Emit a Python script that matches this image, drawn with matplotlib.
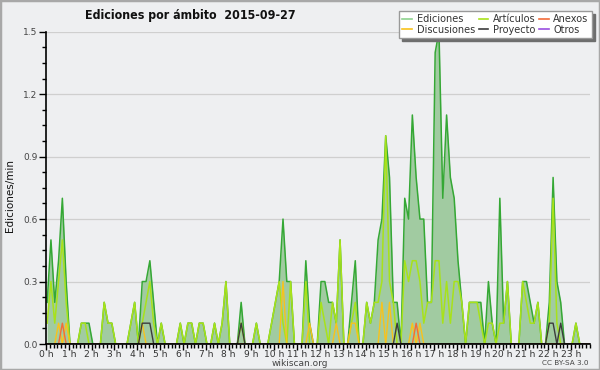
import numpy as np
import matplotlib
matplotlib.use("Agg")
import matplotlib.pyplot as plt
from matplotlib.ticker import MultipleLocator, FuncFormatter
from matplotlib.lines import Line2D
from matplotlib.patches import Rectangle
from matplotlib import font_manager

# ---- data: edits per minute, 10-minute bins (6 per hour, rows = hours 0..23) ----
ediciones = [
    0.2, 0.5, 0.2, 0.4, 0.7, 0.3,
    0, 0, 0, 0.1, 0.1, 0.1,
    0, 0, 0, 0.2, 0.1, 0.1,
    0, 0, 0, 0, 0.1, 0.2,
    0, 0.3, 0.3, 0.4, 0.2, 0,
    0.1, 0, 0, 0, 0, 0.1,
    0, 0.1, 0.1, 0, 0.1, 0.1,
    0, 0, 0.1, 0, 0.1, 0.3,
    0, 0, 0, 0.2, 0, 0,
    0, 0.1, 0, 0, 0, 0.1,
    0.2, 0.3, 0.6, 0.3, 0.3, 0,
    0, 0, 0.4, 0.1, 0, 0,
    0.3, 0.3, 0.2, 0.2, 0.1, 0.5,
    0, 0, 0.2, 0.4, 0, 0,
    0.2, 0.1, 0.2, 0.5, 0.6, 1.0,
    0.8, 0.2, 0.2, 0, 0.7, 0.6,
    1.1, 0.8, 0.6, 0.6, 0.2, 0.2,
    1.4, 1.5, 0.7, 1.1, 0.8, 0.7,
    0.4, 0.2, 0, 0.2, 0.2, 0.2,
    0.2, 0, 0.3, 0.1, 0, 0.7,
    0.1, 0.3, 0, 0, 0, 0.3,
    0.3, 0.2, 0.1, 0.2, 0, 0,
    0.2, 0.8, 0.3, 0.2, 0, 0,
    0, 0.1, 0, 0, 0, 0,
]
articulos = [
    0.1, 0.3, 0.1, 0.3, 0.5, 0.2,
    0, 0, 0, 0.1, 0.1, 0,
    0, 0, 0, 0.2, 0.1, 0.1,
    0, 0, 0, 0, 0.1, 0.2,
    0, 0.1, 0.2, 0.3, 0.1, 0,
    0.1, 0, 0, 0, 0, 0.1,
    0, 0.1, 0.1, 0, 0.1, 0.1,
    0, 0, 0.1, 0, 0.1, 0.3,
    0, 0, 0, 0.1, 0, 0,
    0, 0.1, 0, 0, 0, 0.1,
    0.2, 0.3, 0.1, 0, 0.3, 0,
    0, 0, 0.3, 0, 0, 0,
    0.2, 0.1, 0, 0.2, 0.1, 0.5,
    0, 0, 0.1, 0.2, 0, 0,
    0.2, 0.1, 0.2, 0.2, 0.3, 1.0,
    0.3, 0.2, 0, 0, 0.4, 0.3,
    0.4, 0.4, 0.3, 0.1, 0.2, 0.2,
    0.4, 0.4, 0.1, 0.3, 0.1, 0.3,
    0.3, 0.2, 0, 0.2, 0.2, 0.2,
    0.1, 0, 0.1, 0.1, 0, 0.1,
    0.1, 0.3, 0, 0, 0, 0.3,
    0.2, 0.1, 0.1, 0.2, 0, 0,
    0.1, 0.7, 0.1, 0, 0, 0,
    0, 0.1, 0, 0, 0, 0,
]
discusiones = [
    0, 0, 0, 0.1, 0, 0.1,
    0, 0, 0, 0, 0, 0,
    0, 0, 0, 0, 0, 0,
    0, 0, 0, 0, 0, 0,
    0, 0.1, 0, 0, 0, 0,
    0, 0, 0, 0, 0, 0,
    0, 0, 0, 0, 0, 0,
    0, 0, 0, 0, 0, 0,
    0, 0, 0, 0, 0, 0,
    0, 0, 0, 0, 0, 0,
    0, 0, 0.3, 0, 0, 0,
    0, 0, 0, 0.1, 0, 0,
    0, 0, 0, 0, 0.1, 0,
    0, 0, 0.1, 0.1, 0, 0,
    0, 0, 0, 0, 0.2, 0,
    0.2, 0, 0, 0, 0, 0,
    0.1, 0, 0.1, 0, 0, 0,
    0, 0, 0, 0, 0, 0,
    0, 0, 0, 0, 0, 0,
    0, 0, 0, 0, 0, 0,
    0, 0, 0, 0, 0, 0,
    0, 0, 0, 0, 0, 0,
    0, 0, 0, 0, 0, 0,
    0, 0, 0, 0, 0, 0,
]
anexos = [0.0] * 144
anexos[4] = 0.1
anexos[97] = 0.1
proyecto = [0.0] * 144
for _i in (25, 26, 27, 51, 92, 132, 133, 135):
    proyecto[_i] = 0.1
otros = [0.0] * 144

hour_labels = [f"{h} h" for h in range(24)]
title = "Ediciones por ámbito  2015-09-27"
series_names = ["Ediciones", "Discusiones", "Artículos", "Proyecto", "Anexos", "Otros"]

# ---- style ----
BG = "#EEEFF1"
C_EDI_LINE = "#35A835"
C_EDI_FILL = "#A1CBA1"
C_ART = "#A8E21A"
C_DIS = "#F8C21C"
C_ANE = "#F26B3A"
C_PRO = "#3C3C3C"
C_OTR = "#9A4FE0"

plt.rcParams["font.family"] = ["DejaVu Sans"]


def pick_font(cands):
    for fam, stretch in cands:
        try:
            fp = font_manager.FontProperties(family=fam, stretch=stretch, weight="bold")
            path = font_manager.findfont(fp, fallback_to_default=False)
            if "Narrow" in path or "Condensed" in path or stretch == "normal":
                return fam, stretch
        except Exception:
            pass
    return "DejaVu Sans", "normal"


title_fam, title_stretch = pick_font([("DejaVu Sans", "condensed"),
                                      ("Liberation Sans Narrow", "condensed"),
                                      ("Liberation Sans Narrow", "normal")])
title_size = 8.9 if title_fam != "DejaVu Sans" or title_stretch != "normal" else 7.9

W, H = 600, 370
fig = plt.figure(figsize=(W / 100, H / 100), dpi=100, facecolor=BG)
ax = fig.add_axes([46 / W, (H - 344) / H, 544 / W, (344 - 31.7) / H])
ax.set_facecolor(BG)

n = len(ediciones)
x = (np.arange(n) + 0.3) / 6.0

ax.fill_between(x, 0, ediciones, color=C_EDI_FILL, lw=0, zorder=1)
ax.plot(x, ediciones, color=C_EDI_LINE, lw=1.1, zorder=2)
ax.plot(x, articulos, color=C_ART, lw=1.1, zorder=2.1)
ax.plot(x, discusiones, color=C_DIS, lw=1.0, zorder=2.2)
ax.plot(x, anexos, color=C_ANE, lw=1.0, zorder=2.3)
ax.plot(x, proyecto, color=C_PRO, lw=1.0, zorder=2.4)
ax.plot(x, otros, color=C_OTR, lw=1.0, zorder=2.0)

ax.set_xlim(0, 143 / 6.0)
ax.set_ylim(0, 1.5)

ax.xaxis.set_major_locator(MultipleLocator(1))
ax.xaxis.set_minor_locator(MultipleLocator(1 / 6.0))
ax.xaxis.set_major_formatter(FuncFormatter(
    lambda v, p: hour_labels[int(round(v))] if 0 <= int(round(v)) < 24 else ""))
ax.yaxis.set_major_locator(MultipleLocator(0.3))
ax.yaxis.set_minor_locator(MultipleLocator(0.075))
ax.yaxis.set_major_formatter(FuncFormatter(lambda v, p: f"{v:.1f}"))

ax.tick_params(axis="x", which="major", length=4, width=1, direction="out", pad=0,
               labelsize=6.6, labelcolor="#333333")
ax.tick_params(axis="x", which="minor", length=3, width=1, direction="out")
ax.tick_params(axis="y", which="major", length=5, width=1, direction="out", pad=1,
               labelsize=6.5, labelcolor="#444444")
ax.tick_params(axis="y", which="minor", length=3, width=1, direction="out")

for s in ("top", "right"):
    ax.spines[s].set_visible(False)
for s in ("left", "bottom"):
    ax.spines[s].set_color("black")
    ax.spines[s].set_linewidth(1.2)

ax.yaxis.grid(True, which="major", color="#CFCFCF", lw=0.9)
ax.set_axisbelow(True)

fig.text(85 / W, 1 - 15 / H, title, fontsize=title_size, fontweight="bold",
         family=title_fam, fontstretch=title_stretch, va="center",
         ha="left", color="#111111")
fig.text(10 / W, 1 - 196 / H, "Ediciones/min", rotation=90, fontsize=7.5,
         va="center", ha="center", color="#111111")
fig.text(300 / W, 1 - 363.5 / H, "wikiscan.org", fontsize=6.5, va="center", ha="center",
         color="#444444")
fig.text(589 / W, 1 - 363 / H, "CC BY-SA 3.0", fontsize=5.2, va="center", ha="right",
         color="#444444")

handles = [
    Line2D([], [], color="#8ED28E", lw=1.2),
    Line2D([], [], color=C_DIS, lw=1.2),
    Line2D([], [], color=C_ART, lw=1.2),
    Line2D([], [], color=C_PRO, lw=1.2),
    Line2D([], [], color=C_ANE, lw=1.2),
    Line2D([], [], color=C_OTR, lw=1.2),
]
leg = fig.legend(handles, series_names, ncol=3, loc="upper right",
                 bbox_to_anchor=(592 / W, 1 - 11 / H), fontsize=7,
                 frameon=True, fancybox=False, shadow={"color": "#6E6E6E", "alpha": 1},
                 handlelength=1.0, handletextpad=0.45, columnspacing=0.4,
                 labelspacing=0.05, borderpad=0.35, borderaxespad=0)
leg.get_frame().set_edgecolor("#999999")
leg.get_frame().set_linewidth(1.0)
for t in leg.get_texts():
    t.set_color("#333333")

fig.patches.append(Rectangle((0, 0), 1, 1, transform=fig.transFigure, fill=False,
                             edgecolor="#A8A8A8", lw=2.5, zorder=10))

fig.savefig("out.png", dpi=100, facecolor=BG)
